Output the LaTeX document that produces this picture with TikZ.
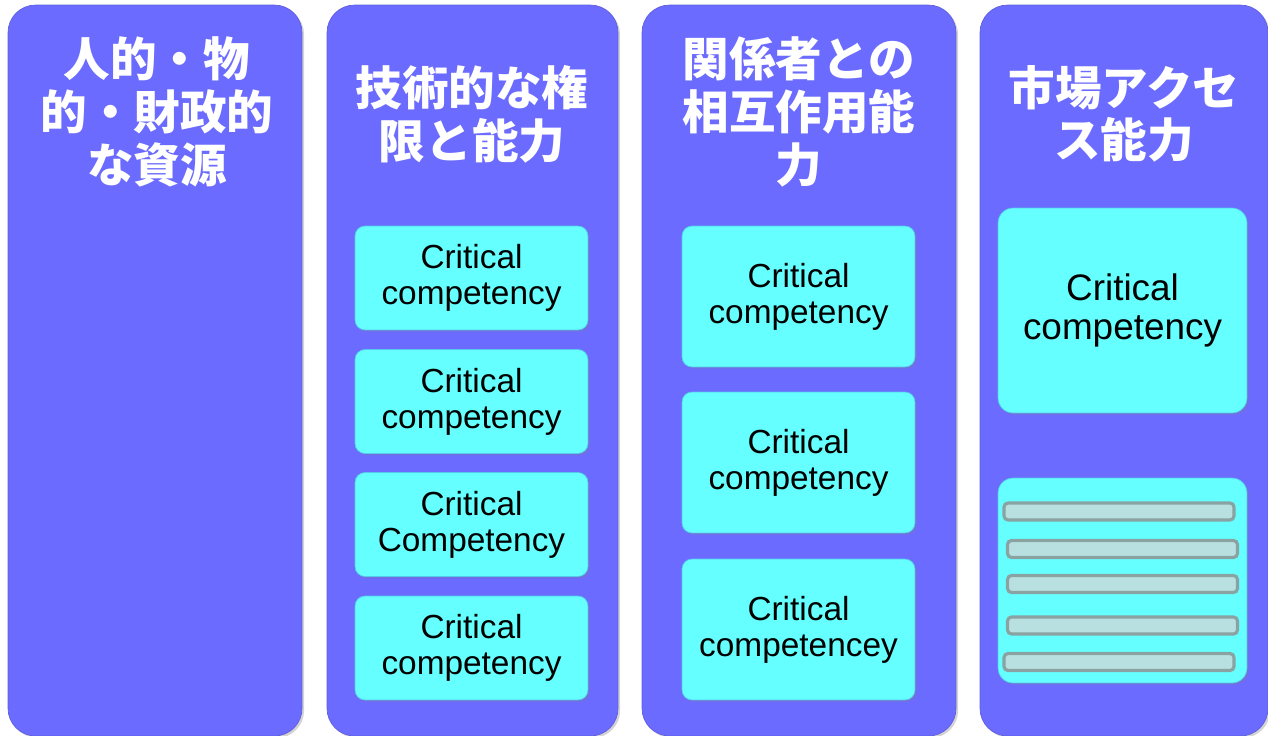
\documentclass[tikz,border=0pt]{standalone}
\usepackage{fontspec}
\setmainfont{Liberation Sans}
\newfontfamily\cjk{Noto Sans CJK JP}
\usetikzlibrary{shadows}
\definecolor{cColumn}{RGB}{107, 107, 255}
\definecolor{cColumnTop}{RGB}{126, 126, 255}
\definecolor{cColumnEdge}{RGB}{95, 95, 225}
\definecolor{cComp}{RGB}{102, 255, 255}
\definecolor{cCompEdge}{RGB}{85, 200, 235}
\definecolor{cBar}{RGB}{184, 224, 224}
\definecolor{cBarEdge}{RGB}{138, 162, 162}
\tikzset{
    nodeColumn/.style={
        draw=cColumnEdge,
        fill=cColumn,
        rounded corners=0.55cm,
        drop shadow={shadow xshift=1.2pt, shadow yshift=-1.2pt, opacity=0.35},
        minimum height=14.62cm
    },
    nodeHead/.style={
        text=white,
        align=center,
        font=\cjk\bfseries\fontsize{26.5}{30}\selectfont
    },
    nodeComp/.style={
        draw=cCompEdge,
        fill=cComp,
        rounded corners=0.2cm,
        align=center,
        drop shadow={shadow xshift=1pt, shadow yshift=-1pt, opacity=0.3},
        font=\fontsize{19}{20.5}\selectfont
    },
    nodeCompBig/.style={
        nodeComp,
        rounded corners=0.3cm,
        font=\fontsize{21}{22.5}\selectfont
    },
    nodeBar/.style={
        draw=cBarEdge,
        fill=cBar,
        line width=1.8pt,
        rounded corners=0.08cm,
        minimum width=4.6cm,
        minimum height=0.34cm
    },
}
\begin{document}
\begin{tikzpicture}[x=0.02cm,y=-0.02cm]
    \useasboundingbox (0, 0) rectangle (1268, 736);

    % columns
    \node[nodeColumn, minimum width=5.88cm] (col1) at (155, 370.5) {};
    \node[nodeColumn, minimum width=5.82cm] (col2) at (472.5, 370.5) {};
    \node[nodeColumn, minimum width=6.28cm] (col3) at (799, 370.5) {};
    \node[nodeColumn, minimum width=5.76cm] (col4) at (1124, 370.5) {};

    % headings
    \node[nodeHead] (head1) at (157, 112) {人的・物\\的・財政的\\な資源};
    \node[nodeHead] (head2) at (472, 114) {技術的な権\\限と能力};
    \node[nodeHead] (head3) at (799, 112) {関係者との\\相互作用能\\力};
    \node[nodeHead] (head4) at (1124, 114) {市場アクセ\\ス能力};

    % critical competencies
    \node[nodeComp, minimum width=4.66cm, minimum height=2.08cm] (comp2a) at (471.5, 278) {Critical\\competency};
    \node[nodeComp, minimum width=4.66cm, minimum height=2.08cm] (comp2b) at (471.5, 401.5) {Critical\\competency};
    \node[nodeComp, minimum width=4.66cm, minimum height=2.08cm] (comp2c) at (471.5, 524.5) {Critical\\Competency};
    \node[nodeComp, minimum width=4.66cm, minimum height=2.08cm] (comp2d) at (471.5, 648) {Critical\\competency};

    \node[nodeComp, minimum width=4.66cm, minimum height=2.82cm] (comp3a) at (798.5, 296.5) {Critical\\competency};
    \node[nodeComp, minimum width=4.66cm, minimum height=2.82cm] (comp3b) at (798.5, 462.5) {Critical\\competency};
    \node[nodeComp, minimum width=4.66cm, minimum height=2.82cm] (comp3c) at (798.5, 629.5) {Critical\\competencey};

    \node[nodeCompBig, minimum width=4.98cm, minimum height=4.1cm] (comp4a) at (1122.5, 310.5) {Critical\\competency};
    \node[nodeCompBig, minimum width=4.98cm, minimum height=4.1cm] (comp4b) at (1122.5, 580.5) {};

    % bars in the lower box
    \foreach \x/\y [count=\i] in {1119/511.5, 1122.5/549, 1122.5/584, 1122.5/625.5, 1119/662}
    {
        \node[nodeBar] (bar\i) at (\x, \y) {};
    }
\end{tikzpicture}
\end{document}
